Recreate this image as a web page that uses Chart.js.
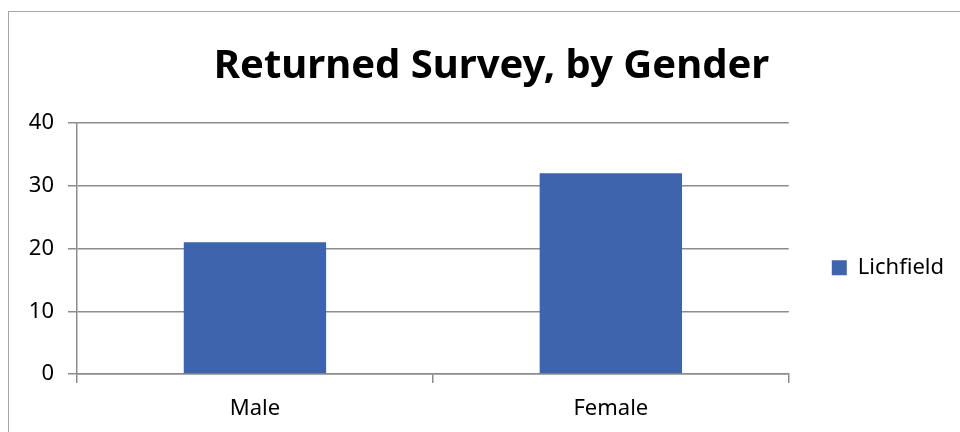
<!DOCTYPE html>
<html>
<head>
<meta charset="utf-8">
<script src="https://cdn.jsdelivr.net/npm/chart.js@4.4.0/dist/chart.umd.min.js"></script>
<style>
  body { margin: 0; background: #fff; }
  #frame { position: absolute; left: 8px; top: 11px; width: 1000px; height: 500px;
           border-left: 1px solid #a6a6a6; border-top: 1px solid #a6a6a6; }
  #wrap { position: absolute; left: 0; top: 0; width: 960px; height: 432px; }
</style>
</head>
<body>
<div id="frame"></div>
<div id="wrap"><canvas id="chart"></canvas></div>
<script>
// survey returns
const categories = ["Male", "Female"];
const lichfield = [21, 32];
const seriesName = "Lichfield";

const ctx = document.getElementById("chart").getContext("2d");
const axisGrey = "#8c8c8c";

// y labels sit left of the padded area, so widen the label clip box
const unclipY = {
  id: "unclipY",
  afterLayout: function(chart) { chart.scales.y.left = 0; }
};

new Chart(ctx, {
  type: "bar",
  data: {
    labels: categories,
    datasets: [{
      label: seriesName,
      data: lichfield,
      backgroundColor: "#3d64ad",
      barPercentage: 0.4,
      categoryPercentage: 1.0
    }]
  },
  options: {
    responsive: true,
    maintainAspectRatio: false,
    animation: false,
    layout: { padding: { left: 29, right: 6, top: 11, bottom: 0 } },
    plugins: {
      title: {
        display: true,
        text: "Returned Survey, by Gender",
        color: "#000",
        font: { family: "Noto Sans", size: 40, weight: "bold" },
        padding: { top: 32, bottom: 32 }
      },
      legend: {
        position: "right",
        // empty title just pushes the single entry down a bit
        title: { display: true, text: "", padding: { top: 0, bottom: 78 } },
        labels: {
          boxWidth: 15,
          boxHeight: 15,
          padding: 43,
          color: "#000",
          font: { family: "Noto Sans", size: 22 }
        }
      },
      tooltip: { enabled: false }
    },
    scales: {
      x: {
        afterFit: function(scale) { scale.height = 58; },
        grid: {
          offset: true,
          drawOnChartArea: false,
          color: axisGrey,
          tickLength: 9,
          lineWidth: 1.5
        },
        border: { color: axisGrey, width: 1.5 },
        ticks: {
          color: "#000",
          padding: 13,
          font: { family: "Noto Sans", size: 22 }
        }
      },
      y: {
        min: 0,
        max: 40,
        afterFit: function(scale) { scale.width = 48; },
        grid: { color: axisGrey, lineWidth: 1.5, tickLength: 9 },
        border: { color: axisGrey, width: 1.5 },
        ticks: {
          stepSize: 10,
          color: "#000",
          padding: 14,
          font: { family: "Noto Sans", size: 22 }
        }
      }
    }
  },
  plugins: [unclipY]
});
</script>
</body>
</html>
